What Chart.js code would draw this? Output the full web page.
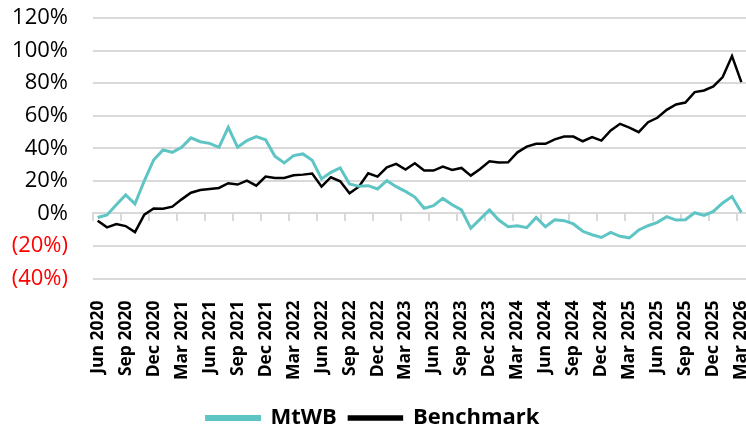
<!DOCTYPE html>
<html>
<head>
<meta charset="utf-8">
<script src="https://cdn.jsdelivr.net/npm/chart.js@4"></script>
<style>
  html, body { margin: 0; padding: 0; background: #fff; }
  #wrap { width: 746px; height: 430px; }
</style>
</head>
<body>
<div id="wrap"><canvas id="perfChart" width="746" height="430"></canvas></div>
<script>
// monthly categories
const months = [
  "Jun 2020", "Jul 2020", "Aug 2020", "Sep 2020", "Oct 2020", "Nov 2020", "Dec 2020",
  "Jan 2021", "Feb 2021", "Mar 2021", "Apr 2021", "May 2021", "Jun 2021", "Jul 2021",
  "Aug 2021", "Sep 2021", "Oct 2021", "Nov 2021", "Dec 2021",
  "Jan 2022", "Feb 2022", "Mar 2022", "Apr 2022", "May 2022", "Jun 2022", "Jul 2022",
  "Aug 2022", "Sep 2022", "Oct 2022", "Nov 2022", "Dec 2022",
  "Jan 2023", "Feb 2023", "Mar 2023", "Apr 2023", "May 2023", "Jun 2023", "Jul 2023",
  "Aug 2023", "Sep 2023", "Oct 2023", "Nov 2023", "Dec 2023",
  "Jan 2024", "Feb 2024", "Mar 2024", "Apr 2024", "May 2024", "Jun 2024", "Jul 2024",
  "Aug 2024", "Sep 2024", "Oct 2024", "Nov 2024", "Dec 2024",
  "Jan 2025", "Feb 2025", "Mar 2025", "Apr 2025", "May 2025", "Jun 2025", "Jul 2025",
  "Aug 2025", "Sep 2025", "Oct 2025", "Nov 2025", "Dec 2025",
  "Jan 2026", "Feb 2026", "Mar 2026"
];

// cumulative return, %
const mtwb = [
  -2.5, -1, 5.3, 11.3, 5.8, 20, 32.8, 39, 37.5, 40.6, 46.4, 44,
  43, 40.6, 52.9, 40.6, 44.7, 47.2, 45.2, 35.1, 31, 35.5, 36.5, 32.6,
  21.2, 25.2, 27.9, 18.1, 16.6, 17, 15, 20.1, 16.4, 13.5, 10, 3.1,
  4.7, 9.2, 5.3, 2.1, -9.2, -3.5, 2.1, -4.1, -8.2, -7.6, -8.8, -2.5,
  -8.2, -3.9, -4.5, -6.5, -11, -13.1, -14.8, -11.7, -14.1, -15, -10.2, -7.6,
  -5.5, -2, -4.1, -3.9, 0.4, -1.2, 1.2, 6.4, 10.3, 0.6
];

const benchmark = [
  -4.5, -8.6, -6.5, -7.8, -11.5, -0.8, 3, 2.9, 4.1, 8.6, 12.7, 14.4,
  15, 15.6, 18.5, 17.7, 20.1, 17, 22.6, 21.8, 21.8, 23.4, 23.8, 24.5,
  16.4, 22.2, 19.7, 12.3, 16.4, 24.6, 22.6, 28.3, 30.4, 26.9, 30.8, 26.3,
  26.3, 28.7, 26.7, 27.9, 23.2, 27.3, 32, 31.2, 31.4, 37.5, 41, 42.7,
  42.7, 45.5, 47.2, 47.2, 44.3, 46.8, 44.7, 50.9, 55, 52.7, 49.9, 56,
  58.7, 63.6, 66.9, 68.1, 74.5, 75.5, 78, 83.7, 96.6, 80.6
];

const TEAL = "#5ec5c4";
const GRID = "#d9d9d9";
const FONT = "'Open Sans', 'DejaVu Sans', sans-serif";

const ctx = document.getElementById("perfChart").getContext("2d");

new Chart(ctx, {
  type: "line",
  data: {
    labels: months,
    datasets: [
      {
        label: "MtWB",
        data: mtwb,
        borderColor: TEAL,
        backgroundColor: TEAL,
        borderWidth: 3,
        pointRadius: 0,
        tension: 0,
        xAxisID: "x",
      },
      {
        label: "Benchmark",
        data: benchmark,
        borderColor: "#000000",
        backgroundColor: "#000000",
        borderWidth: 2.5,
        pointRadius: 0,
        tension: 0,
        xAxisID: "x",
      },
    ],
  },
  options: {
    responsive: false,
    animation: false,
    layout: { padding: { top: 18, right: 0, bottom: -9, left: 0 } },
    plugins: {
      tooltip: { enabled: false },
      legend: {
        position: "bottom",
        labels: {
          boxWidth: 53,
          boxHeight: 3,
          padding: 12,
          color: "#000",
          font: { family: FONT, size: 22, weight: "bold" },
        },
      },
    },
    scales: {
      // axis line with tick marks sitting on the 0% line
      x: {
        type: "category",
        offset: true,
        position: { y: 0 },
        grid: {
          offset: true,
          drawOnChartArea: false,
          drawTicks: true,
          tickLength: 7,
          lineWidth: 2,
          color: (c) => (c.index % 3 === 0 ? GRID : "rgba(0,0,0,0)"),
        },
        border: { display: true, color: GRID, width: 2 },
        ticks: { display: false },
      },
      // labels at the bottom of the plot
      x2: {
        type: "category",
        offset: true,
        position: "bottom",
        grid: { display: false },
        border: { display: false },
        afterFit: (scale) => {
          scale.height = 116.5;
          scale.paddingLeft = 0;
          scale.paddingRight = 0;
        },
        ticks: {
          autoSkip: false,
          maxRotation: 90,
          minRotation: 90,
          padding: 14,
          color: "#000",
          font: { family: FONT, size: 17.5, weight: "bold" },
          callback: function (value, index) {
            return index % 3 === 0 ? this.getLabelForValue(value) : "";
          },
        },
      },
      y: {
        min: -40,
        max: 120,
        afterFit: (scale) => {
          scale.width = 93;
          scale.paddingTop = 0;
          scale.paddingBottom = 0;
        },
        ticks: {
          stepSize: 20,
          autoSkip: false,
          padding: 25,
          font: { family: FONT, size: 22 },
          color: (c) => (c.tick && c.tick.value < 0 ? "#ff0000" : "#000000"),
          callback: (v) => (v < 0 ? "(" + -v + "%)" : v + "%"),
        },
        grid: { color: GRID, lineWidth: 2, drawTicks: false },
        border: { display: false },
      },
    },
  },
});
</script>
</body>
</html>
